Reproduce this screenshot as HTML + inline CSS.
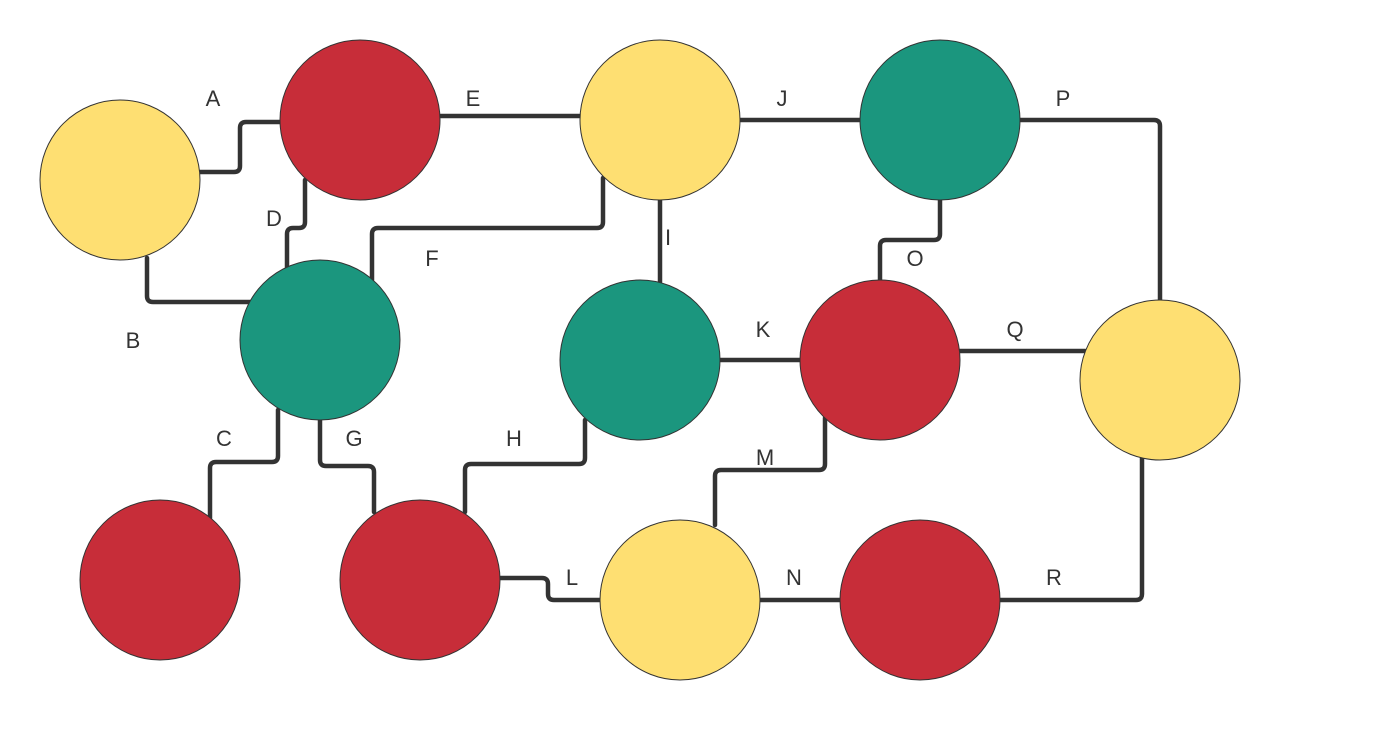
<!DOCTYPE html>
<html><head><meta charset="utf-8"><style>
html,body{margin:0;padding:0;background:#fff;}
svg{display:block;}
text{font-family:"Liberation Sans",sans-serif;font-size:22px;fill:#333;}
</style></head><body>
<svg width="1390" height="736" viewBox="0 0 1390 736">
<g fill="none" stroke="#333" stroke-width="4.5" stroke-linejoin="round" stroke-linecap="round">
<path d="M200 172 H234 Q240 172 240 166 V128 Q240 122 246 122 H280"/>
<path d="M440 116 H580"/>
<path d="M740 120 H860"/>
<path d="M1020 120 H1154 Q1160 120 1160 126 V300"/>
<path d="M305 180 V222 Q305 228 299 228 H293 Q287 228 287 234 V268"/>
<path d="M147 258 V296 Q147 302 153 302 H250"/>
<path d="M603 178 V222 Q603 228 597 228 H378 Q372 228 372 234 V280"/>
<path d="M660 200 V282"/>
<path d="M940 200 V234 Q940 240 934 240 H886 Q880 240 880 246 V280"/>
<path d="M720 360 H800"/>
<path d="M960 351 H1085"/>
<path d="M278 410 V456 Q278 462 272 462 H216 Q210 462 210 468 V518"/>
<path d="M320 420 V460 Q320 466 326 466 H368 Q374 466 374 472 V512"/>
<path d="M585 420 V458 Q585 464 579 464 H471 Q465 464 465 470 V512"/>
<path d="M825 418 V464 Q825 470 819 470 H721 Q715 470 715 476 V525"/>
<path d="M500 578 H542 Q548 578 548 584 V594 Q548 600 554 600 H600"/>
<path d="M760 600 H840"/>
<path d="M1000 600 H1136 Q1142 600 1142 594 V458"/>
</g>
<g stroke="#333" stroke-width="1">
<circle cx="120" cy="180" r="80" fill="#fedf72"/>
<circle cx="360" cy="120" r="80" fill="#c72d39"/>
<circle cx="660" cy="120" r="80" fill="#fedf72"/>
<circle cx="940" cy="120" r="80" fill="#1b967e"/>
<circle cx="320" cy="340" r="80" fill="#1b967e"/>
<circle cx="640" cy="360" r="80" fill="#1b967e"/>
<circle cx="880" cy="360" r="80" fill="#c72d39"/>
<circle cx="1160" cy="380" r="80" fill="#fedf72"/>
<circle cx="160" cy="580" r="80" fill="#c72d39"/>
<circle cx="420" cy="580" r="80" fill="#c72d39"/>
<circle cx="680" cy="600" r="80" fill="#fedf72"/>
<circle cx="920" cy="600" r="80" fill="#c72d39"/>
</g>
<g text-anchor="middle">
<text x="213" y="106">A</text>
<text x="473" y="106">E</text>
<text x="782" y="106">J</text>
<text x="1063" y="106">P</text>
<text x="274" y="226">D</text>
<text x="133" y="348">B</text>
<text x="432" y="266">F</text>
<text x="668" y="245">I</text>
<text x="915" y="266">O</text>
<text x="763" y="337">K</text>
<text x="1015" y="337">Q</text>
<text x="224" y="446">C</text>
<text x="354" y="446">G</text>
<text x="514" y="446">H</text>
<text x="765" y="465">M</text>
<text x="572" y="585">L</text>
<text x="794" y="585">N</text>
<text x="1054" y="585">R</text>
</g>
</svg>
</body></html>
